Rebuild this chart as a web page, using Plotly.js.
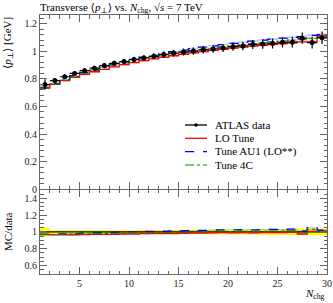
<!DOCTYPE html>
<html>
<head>
<meta charset="utf-8">
<script src="https://cdn.plot.ly/plotly-3.0.1.min.js"></script>
<style>html,body{margin:0;padding:0;background:#fff;}</style>
</head>
<body>
<div id="chart" style="width:333px;height:303px;"></div>
<script>
// ---- data ----
const binEdges = [1,2,3,4,5,6,7,8,9,10,11,12,13,14,15,16,17,18,19,20,21,22,23,24,25,26,27,28,29,30];
const atlasData = [0.758,0.787,0.815,0.839,0.859,0.877,0.896,0.912,0.925,0.940,0.951,0.963,0.976,0.986,0.994,1.001,1.010,1.016,1.023,1.033,1.038,1.048,1.052,1.056,1.064,1.065,1.094,1.062,1.097];
const atlasErr  = [0.038,0.016,0.016,0.017,0.017,0.018,0.018,0.019,0.019,0.020,0.021,0.022,0.023,0.024,0.025,0.026,0.027,0.028,0.029,0.030,0.031,0.033,0.034,0.036,0.037,0.039,0.041,0.043,0.045];
const loTune    = [0.733,0.760,0.787,0.811,0.832,0.851,0.869,0.886,0.902,0.917,0.931,0.944,0.956,0.967,0.978,0.988,0.997,1.006,1.014,1.022,1.029,1.036,1.043,1.049,1.055,1.061,1.067,1.068,1.110];
const loErr     = [0.006,0.005,0.005,0.005,0.005,0.005,0.005,0.005,0.005,0.005,0.005,0.005,0.005,0.005,0.006,0.006,0.006,0.006,0.006,0.006,0.007,0.007,0.007,0.007,0.008,0.008,0.008,0.009,0.009];
const au1Tune   = [0.737,0.766,0.795,0.822,0.846,0.868,0.888,0.907,0.924,0.940,0.956,0.970,0.984,0.997,1.008,1.019,1.029,1.039,1.048,1.057,1.065,1.073,1.080,1.087,1.094,1.100,1.106,1.115,1.120];
const au1Err    = [0.004,0.004,0.004,0.004,0.004,0.004,0.004,0.004,0.004,0.004,0.004,0.004,0.004,0.004,0.005,0.005,0.005,0.005,0.005,0.005,0.005,0.006,0.006,0.006,0.006,0.007,0.007,0.007,0.008];
const tune4C    = [0.735,0.763,0.791,0.817,0.840,0.861,0.880,0.898,0.915,0.930,0.944,0.957,0.970,0.982,0.993,1.003,1.013,1.022,1.031,1.039,1.047,1.054,1.061,1.068,1.074,1.080,1.086,1.094,1.102];
const tune4CErr = [0.004,0.004,0.004,0.004,0.004,0.004,0.004,0.004,0.004,0.004,0.004,0.004,0.004,0.004,0.005,0.005,0.005,0.005,0.005,0.005,0.005,0.006,0.006,0.006,0.006,0.007,0.007,0.007,0.008];
const legendNames = ['ATLAS data','LO Tune','Tune AU1 (LO**)','Tune 4C'];

// ---- helpers ----
const FONT = 'Liberation Serif, DejaVu Serif, serif';
const centers = binEdges.slice(0,-1).map((e,i)=>(e+binEdges[i+1])/2);
const halfW = binEdges.slice(0,-1).map((e,i)=>(binEdges[i+1]-e)/2);
function stepY(v){ return v.concat([v[v.length-1]]); }
function stepLine(v, color, dash, width, xa, ya){
  return {x: binEdges, y: stepY(v), mode:'lines', line:{shape:'hv', color:color, dash:dash, width:width},
          xaxis:xa, yaxis:ya, hoverinfo:'skip', showlegend:false};
}
function band(lo, hi, fill, xa, ya){
  return [
    {x: binEdges, y: stepY(hi), mode:'lines', line:{shape:'hv', width:0}, xaxis:xa, yaxis:ya, hoverinfo:'skip', showlegend:false},
    {x: binEdges, y: stepY(lo), mode:'lines', line:{shape:'hv', width:0}, fill:'tonexty', fillcolor:fill, xaxis:xa, yaxis:ya, hoverinfo:'skip', showlegend:false}
  ];
}
const add = (a,b)=>a.map((v,i)=>v+b[i]);
const sub = (a,b)=>a.map((v,i)=>v-b[i]);
const div = (a,b)=>a.map((v,i)=>v/b[i]);

const series = [
  {v: loTune, e: loErr, color:'#ff0000', dash:'solid', w:1.3, fill:'rgba(255,0,0,0.28)'},
  {v: au1Tune, e: au1Err, color:'#0000ff', dash:'dash', w:1.3, fill:'rgba(0,0,255,0.25)'},
  {v: tune4C, e: tune4CErr, color:'#008800', dash:'dashdot', w:1.1, fill:'rgba(0,160,0,0.25)'}
];

let traces = [];
// main panel
series.forEach(s=>{ traces = traces.concat(band(sub(s.v,s.e), add(s.v,s.e), s.fill, 'x','y')); });
series.forEach(s=>{ traces.push(stepLine(s.v, s.color, s.dash, s.w, 'x','y')); });
traces.push({x: centers, y: atlasData, mode:'markers', xaxis:'x', yaxis:'y',
  marker:{color:'#000', size:5},
  error_y:{type:'data', array: atlasErr, color:'#000', thickness:1.2, width:0},
  error_x:{type:'data', array: halfW, color:'#000', thickness:1.2, width:0},
  hoverinfo:'skip', showlegend:false});
// ratio panel
const relErr = div(atlasErr, atlasData);
const ones = div(atlasData, atlasData);
traces = traces.concat(band(sub(ones, relErr), add(ones, relErr), '#ffff00', 'x2','y2'));
series.forEach(s=>{ traces = traces.concat(band(div(sub(s.v,s.e),atlasData), div(add(s.v,s.e),atlasData), s.fill, 'x2','y2')); });
traces.push(stepLine(ones, '#000', 'solid', 1.2, 'x2','y2'));
series.forEach(s=>{ traces.push(stepLine(div(s.v,atlasData), s.color, s.dash, s.w, 'x2','y2')); });

const FRAME = '#666';
const axBase = {showline:true, linecolor:FRAME, linewidth:1, mirror:'allticks', ticks:'inside',
  tickcolor:FRAME, showgrid:false, zeroline:false, tickfont:{family:FONT, size:10, color:'#222'}};

// legend (drawn in paper space)
const px = x => (x-40)/287, py = y => (274-y)/259;
const legRows = [125, 138.3, 151.7, 165];
const legStyles = [
  {color:'#000', dash:'solid', w:1.3},
  {color:'#ff0000', dash:'solid', w:1.3},
  {color:'#0000ff', dash:'dash', w:1.3},
  {color:'#008800', dash:'dashdot', w:1.1}
];
const shapes = legRows.map((y,i)=>({type:'line', xref:'paper', yref:'paper', x0:px(185), x1:px(207), y0:py(y), y1:py(y),
  line:{color:legStyles[i].color, dash:legStyles[i].dash, width:legStyles[i].w}}));
shapes.push({type:'circle', xref:'paper', yref:'paper', x0:px(194.2), x1:px(197.8), y0:py(123.2), y1:py(126.8), fillcolor:'#000', line:{color:'#000', width:0}});
const annotations = legRows.map((y,i)=>({xref:'paper', yref:'paper', x:px(213), y:py(y), xanchor:'left', yanchor:'middle',
  text: legendNames[i], showarrow:false, font:{family:FONT, size:11, color:'#000'}}));
annotations.push({xref:'paper', yref:'paper', x:px(8), y:1, xanchor:'center', yanchor:'top', textangle:-90,
  text:'⟨<i>p</i><sub>⊥</sub>⟩ [GeV]', showarrow:false, font:{family:FONT, size:11, color:'#000'}});
annotations.push({xref:'paper', yref:'paper', x:px(8), y:py(232), xanchor:'center', yanchor:'middle', textangle:-90,
  text:'MC/data', showarrow:false, font:{family:FONT, size:11, color:'#000'}});
annotations.push({xref:'paper', yref:'paper', x:1, y:py(294), xanchor:'right', yanchor:'middle',
  text:'<i>N</i><sub>chg</sub>', showarrow:false, font:{family:FONT, size:11, color:'#000'}});

const layout = {
  width:333, height:303,
  margin:{l:40, r:6, t:15, b:29, pad:0},
  paper_bgcolor:'#fff', plot_bgcolor:'#fff',
  showlegend:false,
  font:{family:FONT, size:10, color:'#222'},
  title:{text:'Transverse ⟨<i>p</i><sub>⊥</sub>⟩ vs. <i>N</i><sub>chg</sub>, √<i>s</i> = 7 TeV',
    x:0, xref:'paper', xanchor:'left', y:1-7/303, yref:'container', yanchor:'middle',
    font:{family:FONT, size:11, color:'#000'}},
  xaxis:Object.assign({}, axBase, {domain:[0,1], range:[1,30], anchor:'y', showticklabels:false,
    dtick:5, tick0:0, ticklen:7, minor:{ticks:'inside', dtick:1, tick0:0, ticklen:3.5, tickcolor:FRAME}}),
  yaxis:Object.assign({}, axBase, {domain:[0.327,1], range:[0,1.262], anchor:'x',
    dtick:0.2, tick0:0, ticklen:7, minor:{ticks:'inside', dtick:0.04, tick0:0, ticklen:3.5, tickcolor:FRAME}}),
  xaxis2:Object.assign({}, axBase, {domain:[0,1], range:[1,30], anchor:'y2',
    dtick:5, tick0:0, ticklen:7, minor:{ticks:'inside', dtick:1, tick0:0, ticklen:3.5, tickcolor:FRAME}}),
  yaxis2:Object.assign({}, axBase, {domain:[0,0.325], range:[0.5,1.5], anchor:'x2',
    dtick:0.2, tick0:0, ticklen:7, minor:{ticks:'inside', dtick:0.05, tick0:0, ticklen:3.5, tickcolor:FRAME}}),
  shapes: shapes,
  annotations: annotations
};

Plotly.newPlot('chart', traces, layout, {staticPlot:true, displayModeBar:false});
</script>
</body>
</html>
